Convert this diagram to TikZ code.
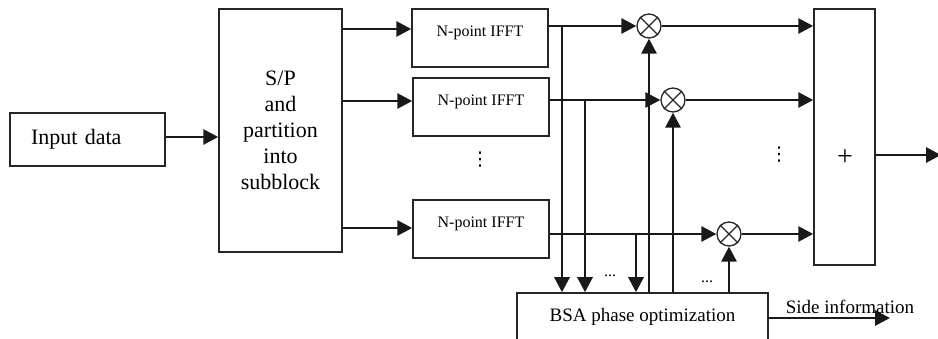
\documentclass[tikz,border=0pt]{standalone}
\usepackage{fontspec}
\setmainfont{Liberation Serif}
\newfontfamily\symfont{DejaVu Sans}
\usetikzlibrary{arrows.meta,calc}

\begin{document}
\begin{tikzpicture}[x=1pt,y=-1pt,
  box/.style={draw=black!85, line width=1.5pt, rectangle, inner sep=0pt},
  ifftbox/.style={box, minimum width=136pt, inner ysep=0pt, text height=28pt, text depth=30pt,
                  font=\fontsize{16}{19}\selectfont},
  flow/.style={line width=2.9pt, draw=black!90, -{Triangle[length=15pt,width=15pt]}},
  mult/.style={draw=black!85, line width=1.3pt, circle, minimum size=24pt, inner sep=0pt},
  small/.style={font=\fontsize{16}{19}\selectfont, inner sep=0pt},
  vdotsnode/.style={font=\symfont\fontsize{19}{19}\selectfont, inner sep=0pt}
]
\useasboundingbox (0,0) rectangle (938,339);
\clip (0,0) rectangle (938,339);

% blocks
\node[box, minimum height=53pt, text width=113pt, inner xsep=21pt, align=left,
      font=\fontsize{22}{26}\selectfont] (input) at (87.5,139.5) {Input data};
\node[box, minimum width=123pt, minimum height=243pt, align=center,
      font=\fontsize{22}{26}\selectfont] (sp) at (280.5,130.5)
      {S/P\\and\\partition\\into\\subblock};
\node[ifftbox] (f1) at (480,38)  {N-point IFFT};
\node[ifftbox] (f2) at (481,107) {N-point IFFT};
\node[ifftbox] (f3) at (481,229) {N-point IFFT};
\node[box, minimum width=61pt, minimum height=256pt] (sum) at (844.5,137) {};
\node[inner sep=0pt, font=\fontsize{28}{28}\selectfont] (plus) at (845,158) {+};
\node[box, minimum width=251pt, minimum height=48pt,
      font=\fontsize{19}{22}\selectfont] (bsa) at (642.5,317) {BSA phase optimization};

% phase multipliers
\node[mult] (m1) at (649,26)  {};
\node[mult] (m2) at (673,100) {};
\node[mult] (m3) at (729,234) {};
\foreach \m in {m1,m2,m3}{
  \draw[line width=1.1pt, black!85] (\m.north west) -- (\m.south east)
                                    (\m.north east) -- (\m.south west);
}

% rows leaving the S/P block
\coordinate (r1) at (0,29);
\coordinate (r2) at (0,101);
\coordinate (r3) at (0,228);
\draw[flow] (input.east |- 0,137) -- (sp.west |- 0,137);
\draw[flow] (sp.east |- r1) -- (f1.west |- r1);
\draw[flow] (sp.east |- r2) -- (f2.west |- r2);
\draw[flow] (sp.east |- r3) -- (f3.west |- r3);

% IFFT outputs into the multipliers
\draw[flow] (f1.east |- m1) -- (m1.west);
\draw[flow] (f2.east |- m2) -- (m2.west);
\draw[flow] (f3.east |- m3) -- (m3.west);

% taps down to the optimizer
\coordinate (b1) at (562,26);
\coordinate (b2) at (585,100);
\coordinate (b3) at (636,233);
\draw[flow] (b1) -- (b1 |- bsa.north);
\draw[flow] (b2) -- (b2 |- bsa.north);
\draw[flow] (b3) -- (b3 |- bsa.north);

% phase factors up to the multipliers
\draw[flow] (bsa.north -| m1) -- (m1.south);
\draw[flow] (bsa.north -| m2) -- (m2.south);
\draw[flow] (bsa.north -| m3) -- (m3.south);

% multiplier outputs into the adder
\draw[flow] (m1.east) -- (sum.west |- m1);
\draw[flow] (m2.east) -- (sum.west |- m2);
\draw[flow] (m3.east) -- (sum.west |- m3);

% adder output
\coordinate (out) at (941,155);
\draw[flow] (sum.east |- out) -- (out);

% side information
\coordinate (si) at (890,318);
\draw[flow] (bsa.east |- si) -- (si);
\node[inner sep=0pt, font=\fontsize{19}{22}\selectfont] (sitext) at (850,307) {Side information};

% ellipses
\node[vdotsnode] (vd1) at (480,160) {⋮};
\node[vdotsnode] (vd2) at (779,155) {⋮};
\node[small] (hd1) at (610,276) {...};
\node[small] (hd2) at (707,282) {...};
\end{tikzpicture}
\end{document}
